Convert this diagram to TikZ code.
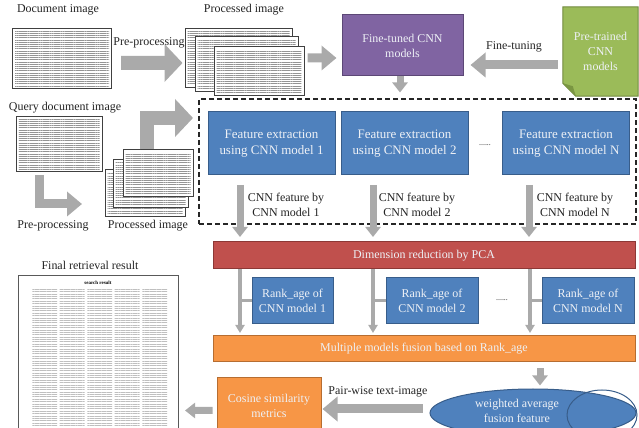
\documentclass[tikz,border=0pt]{standalone}
\usepackage{fontspec}
\setmainfont{Liberation Serif}
\usetikzlibrary{arrows.meta,shapes.geometric,patterns.meta,backgrounds}
\definecolor{arrowgray}{RGB}{170,170,170}
\definecolor{cnnpurple}{RGB}{128,100,162}
\definecolor{purpleline}{RGB}{92,71,118}
\definecolor{cnnblue}{RGB}{79,129,189}
\definecolor{blueline}{RGB}{56,93,138}
\definecolor{pcared}{RGB}{192,80,77}
\definecolor{redline}{RGB}{140,56,54}
\definecolor{fuseorange}{RGB}{247,150,70}
\definecolor{orangeline}{RGB}{182,109,49}
\definecolor{modelgreen}{RGB}{155,187,89}
\definecolor{greenline}{RGB}{113,137,63}
\definecolor{greenfold}{RGB}{122,150,66}
\definecolor{boxtext}{RGB}{238,241,246}
\definecolor{labeltext}{RGB}{35,35,35}
\begin{document}
\begin{tikzpicture}[
  font=\fontsize{12}{15}\selectfont,
  lbl/.style={text=labeltext,inner sep=1bp},
  box/.style={draw,line width=1bp,align=center,text=boxtext,inner sep=2bp},
  bluebox/.style={box,draw=blueline,fill=cnnblue},
  febox/.style={bluebox,minimum width=127bp,minimum height=63bp,font=\fontsize{13}{16}\selectfont},
  rankbox/.style={bluebox,minimum height=46bp},
  purplebox/.style={box,draw=purpleline,fill=cnnpurple},
  redbar/.style={box,draw=redline,fill=pcared,minimum width=422bp,minimum height=27bp},
  orangebar/.style={box,draw=orangeline,fill=fuseorange,minimum width=422bp,minimum height=26bp},
  dashbox/.style={draw=black!85,line width=1.6bp,dash pattern=on 5bp off 3bp},
  docpage/.style={draw=black!75,line width=1bp,fill=white,inner sep=0pt,
    path picture={\fill[pattern={Lines[angle=0,distance=2.2pt,line width=0.8pt]},pattern color=black!42]
      ([shift={(2.5bp,-2.5bp)}]path picture bounding box.north west) rectangle
      ([shift={(-2.5bp,2.5bp)}]path picture bounding box.south east);}},
  bigarrow/.style={draw=arrowgray,line width=14bp,-{Triangle[length=18bp,width=37bp]}},
  midarrow/.style={draw=arrowgray,line width=9bp,-{Triangle[length=15bp,width=24bp]}},
  smallarrow/.style={draw=arrowgray,line width=7bp,-{Triangle[length=10bp,width=15bp]}},
  thinarrow/.style={draw=arrowgray,line width=3.5bp,-{Triangle[length=8bp,width=9bp]}},
  tickline/.style={draw=arrowgray,line width=3bp}
]
\useasboundingbox (0bp,0bp) rectangle (639bp,428bp);

\node (doclbl) at (58bp,418bp) [lbl] {Document image};
\node (doc) at (62bp,369bp) [docpage,minimum width=99bp,minimum height=60bp] {};
\node (prelbl) at (149bp,385bp) [lbl] {Pre-processing};
\node (proclbl) at (244bp,418bp) [lbl] {Processed image};
\node (p1) at (238.5bp,369.5bp) [docpage,minimum width=107bp,minimum height=59bp] {};
\node (p2) at (246.5bp,363.5bp) [docpage,minimum width=103bp,minimum height=55bp] {};
\node (p3) at (259bp,356.5bp) [docpage,minimum width=90bp,minimum height=49bp] {};
\node (ft) at (402.5bp,382.5bp) [purplebox,minimum width=121bp,minimum height=61bp] {Fine-tuned CNN\\models};
\node (ftlbl) at (514bp,381bp) [lbl] {Fine-tuning};
\node (ptm) at (600.5bp,376.5bp) [minimum width=75bp,minimum height=89bp,align=center,text=boxtext] {Pre-trained\\CNN\\models};
\begin{scope}[on background layer]
  \draw [greenline,fill=modelgreen,line width=1bp] (ptm.north west) -- (ptm.north east) -- (ptm.south east)
    -- ([xshift=13bp]ptm.south west) -- ([yshift=13bp]ptm.south west) -- cycle;
  \fill [greenfold] ([xshift=13bp]ptm.south west) -- ([yshift=13bp]ptm.south west) -- ([xshift=10bp,yshift=10bp]ptm.south west) -- cycle;
\end{scope}
\draw [bigarrow] ([xshift=9bp,yshift=-4bp]doc.east) -- ([xshift=-2bp,yshift=-4.5bp]p1.west);
\draw [midarrow] ([xshift=15bp,yshift=0.5bp]p1.east) -- ([xshift=-5bp,yshift=-12.5bp]ft.west);
\draw [midarrow] ([xshift=-5bp,yshift=-13.5bp]ptm.west) -- ([xshift=7bp,yshift=-19.5bp]ft.east);
\draw [smallarrow] ([xshift=-2.5bp]ft.south) -- ([xshift=-2.5bp,yshift=-16bp]ft.south);

\node (cnnbox) at (417.5bp,266.5bp) [dashbox,minimum width=437bp,minimum height=125bp] {};
\node (qlbl) at (65bp,320bp) [lbl] {Query document image};
\node (qdoc) at (59bp,283.5bp) [docpage,minimum width=86bp,minimum height=55bp] {};
\node (qp1) at (145bp,234.5bp) [docpage,minimum width=80bp,minimum height=47bp] {};
\node (qp2) at (150.5bp,244bp) [docpage,minimum width=75bp,minimum height=48bp] {};
\node (qp3) at (158bp,254.5bp) [docpage,minimum width=70bp,minimum height=47bp] {};
\node (qprelbl) at (53bp,202bp) [lbl] {Pre-processing};
\node (qproclbl) at (148bp,202bp) [lbl] {Processed image};
\coordinate (qpin) at (82bp,224bp);
\coordinate (fein) at (193bp,310bp);
\draw [midarrow] ([xshift=-20bp,yshift=-3bp]qdoc.south) |- (qpin);
\draw [bigarrow] ([xshift=-11bp]qp3.north) |- (fein);

\node (fe1) at (271.5bp,284.5bp) [febox] {Feature extraction\\using CNN model 1};
\node (fe2) at (404.5bp,284.5bp) [febox] {Feature extraction\\using CNN model 2};
\node (feN) at (566bp,284.5bp) [febox] {Feature extraction\\using CNN model N};
\node (dots1) at (485bp,283bp) [lbl,font=\fontsize{8}{9}\selectfont] {......};
\coordinate (fa1) at (240bp,243bp);
\coordinate (fa2) at (373bp,243bp);
\coordinate (faN) at (529bp,243bp);
\foreach \f in {fa1,fa2,faN}
  \draw [smallarrow] (\f) -- ++(0bp,-52bp);
\node (cf1) at (286bp,223.5bp) [lbl,align=center] {CNN feature by\\CNN model 1};
\node (cf2) at (417bp,223.5bp) [lbl,align=center] {CNN feature by\\CNN model 2};
\node (cfN) at (575bp,223.5bp) [lbl,align=center] {CNN feature by\\CNN model N};

\node (pca) at (424bp,172.5bp) [redbar] {Dimension reduction by PCA};
\node (rk1) at (292.5bp,127bp) [rankbox,minimum width=81bp] {Rank\_age of\\CNN model 1};
\node (rk2) at (432bp,127bp) [rankbox,minimum width=92bp] {Rank\_age of\\CNN model 2};
\node (rkN) at (588bp,127bp) [rankbox,minimum width=92bp] {Rank\_age of\\CNN model N};
\node (dots2) at (502bp,128bp) [lbl,font=\fontsize{8}{9}\selectfont] {......};
\node (fusion) at (424bp,79bp) [orangebar] {Multiple models fusion based on Rank\_age};
\coordinate (ra1) at (240bp,159bp);
\coordinate (ra2) at (373bp,159bp);
\coordinate (raN) at (530bp,159bp);
\foreach \r in {ra1,ra2,raN}
  \draw [thinarrow] (\r) -- ++(0bp,-64bp);
\draw [tickline] (rk1.west) -- ++(-12bp,0bp);
\draw [tickline] (rk2.west) -- ++(-13bp,0bp);
\draw [tickline] (rkN.west) -- ++(-12bp,0bp);

\node (wavg) at (533bp,15bp) [ellipse,draw=blueline,line width=1bp,fill=cnnblue,minimum width=206bp,minimum height=48bp] {};
\node (wavgin) at (602bp,13bp) [ellipse,draw=blueline,line width=1bp,minimum width=70bp,minimum height=50bp] {};
\node (wavgtxt) at (517bp,17bp) [align=center,text=boxtext] {weighted average\\fusion feature};
\draw [smallarrow] ([xshift=116bp,yshift=-6bp]fusion.south) -- ++(0bp,-17bp);
\node (pwlbl) at (378bp,36bp) [lbl] {Pair-wise text-image};
\node (cos) at (269bp,22bp) [box,draw=orangeline,fill=fuseorange,minimum width=104bp,minimum height=56bp] {Cosine similarity\\metrics};
\draw [midarrow] ([xshift=-7bp,yshift=4bp]wavg.west) -- ([xshift=1bp,yshift=-3bp]cos.east);

\node (reslbl) at (90bp,163bp) [lbl] {Final retrieval result};
\node (result) at (98bp,73bp) [draw=black!65,line width=0.8bp,fill=white,minimum width=160bp,minimum height=160bp] {};
\node (restitle) at (98bp,145bp) [font=\fontsize{5}{6}\selectfont\bfseries] {search result};
\foreach \c in {0,...,4}
  \fill [pattern={Lines[angle=0,distance=2.4pt,line width=0.9pt]},pattern color=black!25] (32bp+\c*27.5bp,139bp) rectangle ++(25bp,-141bp);
\coordinate (resin) at (185bp,17.5bp);
\draw [smallarrow] ([xshift=-4bp,yshift=-4.5bp]cos.west) -- (resin);
\end{tikzpicture}
\end{document}
